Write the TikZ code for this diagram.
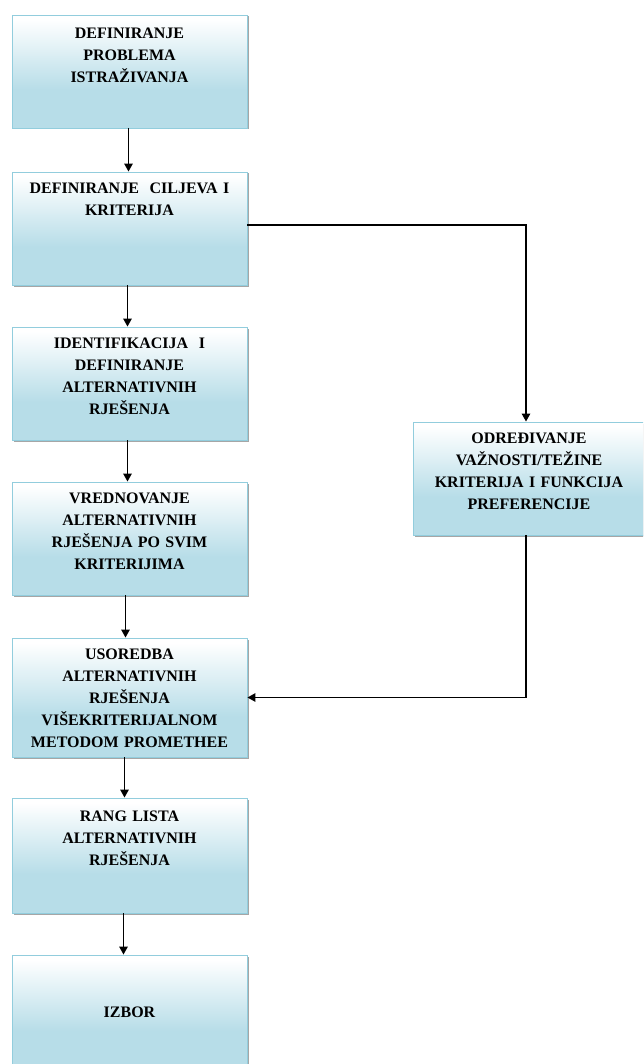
\documentclass[tikz,border=0pt]{standalone}
\usepackage{fontspec}
\setmainfont{Liberation Serif}
\usetikzlibrary{arrows.meta,shadows}
\definecolor{boxline}{RGB}{146,205,221}
\definecolor{boxfill}{RGB}{183,221,232}
\pgfdeclareverticalshading{boxshade}{100bp}{color(0bp)=(boxfill); color(25bp)=(boxfill); color(42bp)=(boxfill); color(73bp)=(white); color(100bp)=(white)}
\tikzset{
	stepbox/.style={draw=boxline, line width=0.9pt, shading=boxshade, minimum width=235pt, minimum height=113pt, inner sep=0pt, drop shadow={shadow xshift=1.5pt, shadow yshift=-1.5pt, fill=black!50, opacity=0.7}},
	boxtext/.style={anchor=north, inner sep=0pt, text width=230pt, align=center, font=\bfseries\fontsize{16}{22}\selectfont},
	flow/.style={line width=1.4pt, -{Triangle[length=8pt,width=8.5pt]}}
}

\begin{document}
\begin{tikzpicture}[x=1pt, y=-1pt]
		%%%%% START %%%%%
		\useasboundingbox (0, 0) rectangle (643, 1064);
		\clip (0, 0) rectangle (643, 1064);
		
		\node[stepbox] (b1) at (129.5, 71.5) {};
		\node[boxtext] (t1) at ([yshift=-13pt]b1.north) {DEFINIRANJE\\PROBLEMA\\ISTRAŽIVANJA};
		
		\node[stepbox] (b2) at (129.5, 228.5) {};
		\node[boxtext] (t2) at ([yshift=-11pt]b2.north) {DEFINIRANJE \ CILJEVA I\\KRITERIJA};
		
		\node[stepbox] (b3) at (129.5, 383.5) {};
		\node[boxtext] (t3) at ([yshift=-11pt]b3.north) {IDENTIFIKACIJA \ I\\DEFINIRANJE\\ALTERNATIVNIH\\RJEŠENJA};
		
		\node[stepbox] (b4) at (129.5, 538.5) {};
		\node[boxtext] (t4) at ([yshift=-11pt]b4.north) {VREDNOVANJE\\ALTERNATIVNIH\\RJEŠENJA PO SVIM\\KRITERIJIMA};
		
		\node[stepbox, minimum height=119pt] (b5) at (129.5, 697.5) {};
		\node[boxtext] (t5) at ([yshift=-11pt]b5.north) {USOREDBA\\ALTERNATIVNIH\\RJEŠENJA\\VIŠEKRITERIJALNOM\\METODOM PROMETHEE};
		
		\node[stepbox, minimum height=115pt] (b6) at (129.5, 855.5) {};
		\node[boxtext] (t6) at ([yshift=-13pt]b6.north) {RANG LISTA\\ALTERNATIVNIH\\RJEŠENJA};
		
		\node[stepbox, minimum height=115pt, font=\bfseries\fontsize{16}{22}\selectfont] (b7) at (129.5, 1012.5) {IZBOR};
		
		\node[stepbox, minimum width=234pt] (rb) at (530, 478.5) {};
		\node[boxtext, text width=225pt] (trb) at ([yshift=-11pt, xshift=-1pt]rb.north) {ODREĐIVANJE\\VAŽNOSTI/TEŽINE\\KRITERIJA I FUNKCIJA\\PREFERENCIJE};
		
		%%%%% ARROWS %%%%%
		\draw[flow] ([xshift=-1pt]b1.south) -- ([xshift=-1pt]b2.north);
		\draw[flow] ([xshift=-2pt]b2.south) -- ([xshift=-2pt]b3.north);
		\draw[flow] ([xshift=-2pt]b3.south) -- ([xshift=-2pt]b4.north);
		\draw[flow] ([xshift=-4pt]b4.south) -- ([xshift=-4pt]b5.north);
		\draw[flow] ([xshift=-5pt]b5.south) -- ([xshift=-5pt]b6.north);
		\draw[flow] ([xshift=-6pt]b6.south) -- ([xshift=-6pt]b7.north);
		
		\draw[flow] ([yshift=3.5pt]b2.east) -| ([xshift=-4pt]rb.north);
		\draw[flow] ([xshift=-4pt]rb.south) |- (b5.east);
		
		%%%%% END %%%%%
	\end{tikzpicture}
\end{document}
